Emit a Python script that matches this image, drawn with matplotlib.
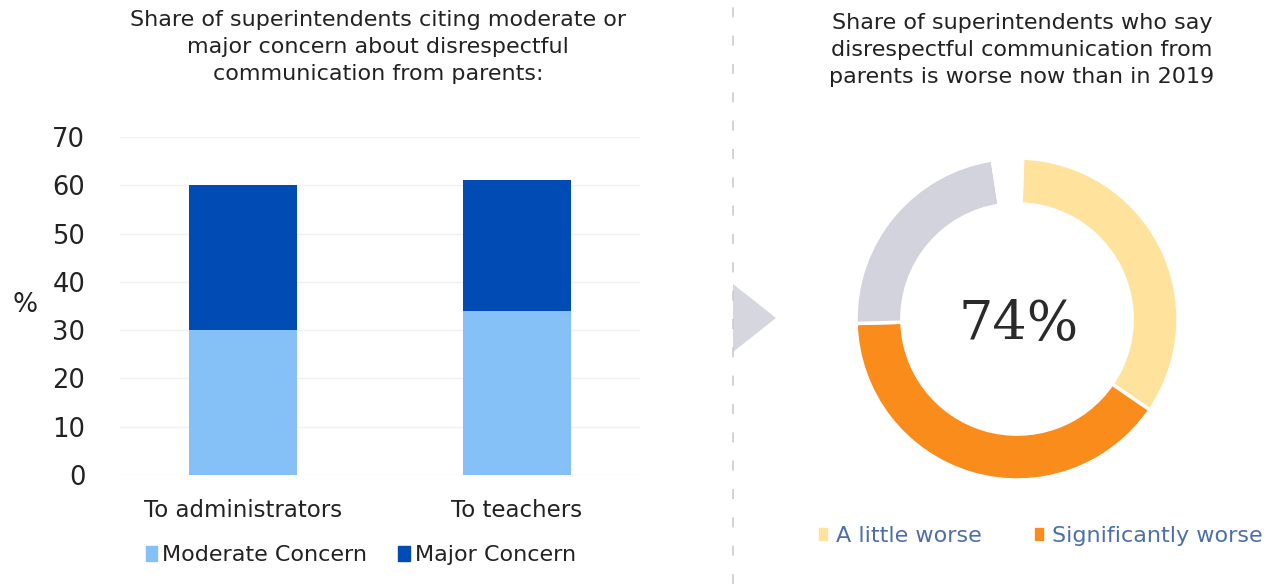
import matplotlib
matplotlib.use("Agg")
import matplotlib.pyplot as plt
from matplotlib.patches import Polygon, Patch
from matplotlib.lines import Line2D

# Left panel: concern about disrespectful communication from parents
categories = ["To administrators", "To teachers"]
moderate = [30, 34]
major = [30, 27]
y_ticks = [0, 10, 20, 30, 40, 50, 60, 70]

# Right panel: worse now than in 2019
donut_labels = ["A little worse", "Significantly worse", "Not worse", "Unsure"]
donut_values = [34, 40, 23, 3]
headline = "74%"

W, H = 1268, 584
fig = plt.figure(figsize=(W / 100, H / 100), dpi=100)
plt.rcParams["font.family"] = ["DejaVu Sans"]

TEXT = "#222222"
LIGHT_BLUE = "#85c0f6"
DARK_BLUE = "#004bb4"
YELLOW = "#ffe29c"
ORANGE = "#f98c1a"
GREY = "#d3d3dd"


def px_rect(x0, y0, x1, y1):
    """Axes rectangle from pixel box (top-left origin)."""
    return [x0 / W, 1 - y1 / H, (x1 - x0) / W, (y1 - y0) / H]


# ---- stacked bars ----
ax = fig.add_axes(px_rect(120, 137, 640, 475))
x = list(range(len(categories)))
ax.bar(x, moderate, width=0.395, color=LIGHT_BLUE, zorder=2)
ax.bar(x, major, width=0.395, bottom=moderate, color=DARK_BLUE, zorder=2)
ax.set_xlim(-0.45, 1.45)
ax.set_ylim(0, 70)
ax.set_yticks(y_ticks)
ax.set_xticks(x)
ax.set_xticklabels(categories, fontsize=16.5, color=TEXT)
ax.tick_params(axis="y", labelsize=18.5, colors=TEXT, length=0, pad=25)
ax.tick_params(axis="x", length=0, pad=17)
for s in ax.spines.values():
    s.set_visible(False)
ax.grid(axis="y", color="#f1f1f1", linewidth=1, zorder=0)
ax.set_axisbelow(True)
fig.text(25 / W, 1 - 305 / H, "%", fontsize=19, color=TEXT, ha="center", va="center")

fig.text(378 / W, 1 - 47 / H,
         "Share of superintendents citing moderate or\nmajor concern about disrespectful\ncommunication from parents:",
         fontsize=16, color=TEXT, ha="center", va="center", linespacing=1.45)

fig.legend([Patch(color=LIGHT_BLUE), Patch(color=DARK_BLUE)],
           ["Moderate Concern", "Major Concern"],
           loc="center", bbox_to_anchor=(361 / W, 1 - 555 / H), ncol=2,
           frameon=False, fontsize=16, handlelength=0.5, handleheight=0.65,
           handletextpad=0.25, columnspacing=1.4, labelcolor=TEXT)

# ---- divider with arrow ----
fig.add_artist(Line2D([733 / W, 733 / W], [0, 1], color="#cccccc", lw=1.2,
                      linestyle=(0, (6, 11)), transform=fig.transFigure))
fig.add_artist(Polygon([[733 / W, 1 - 284 / H], [776 / W, 1 - 318 / H], [733 / W, 1 - 352 / H]],
                       closed=True, facecolor="#d6d6de", edgecolor="none",
                       transform=fig.transFigure))

# ---- donut ----
cx, cy, r = 1017, 319, 161
dax = fig.add_axes(px_rect(cx - r, cy - r, cx + r, cy + r))
dax.pie(donut_values, colors=[YELLOW, ORANGE, GREY, "white"],
        startangle=88, counterclock=False, radius=1,
        wedgeprops=dict(width=0.285, edgecolor="white", linewidth=2.5))
dax.set_xlim(-1, 1)
dax.set_ylim(-1, 1)
dax.set_aspect("equal")
dax.axis("off")
dax.text(0.01, -0.04, headline, ha="center", va="center", fontsize=39,
         family="DejaVu Serif", color="#2a2a2a")

fig.text(1022 / W, 1 - 50 / H,
         "Share of superintendents who say\ndisrespectful communication from\nparents is worse now than in 2019",
         fontsize=16, color=TEXT, ha="center", va="center", linespacing=1.45)

fig.legend([Patch(color=YELLOW), Patch(color=ORANGE)],
           donut_labels[:2],
           loc="center", bbox_to_anchor=(1041 / W, 1 - 536 / H), ncol=2,
           frameon=False, fontsize=16, handlelength=0.35, handleheight=0.4,
           handletextpad=0.4, columnspacing=2.4, labelcolor="#4d6ea8")

fig.savefig("out.png", dpi=100, facecolor="white")
